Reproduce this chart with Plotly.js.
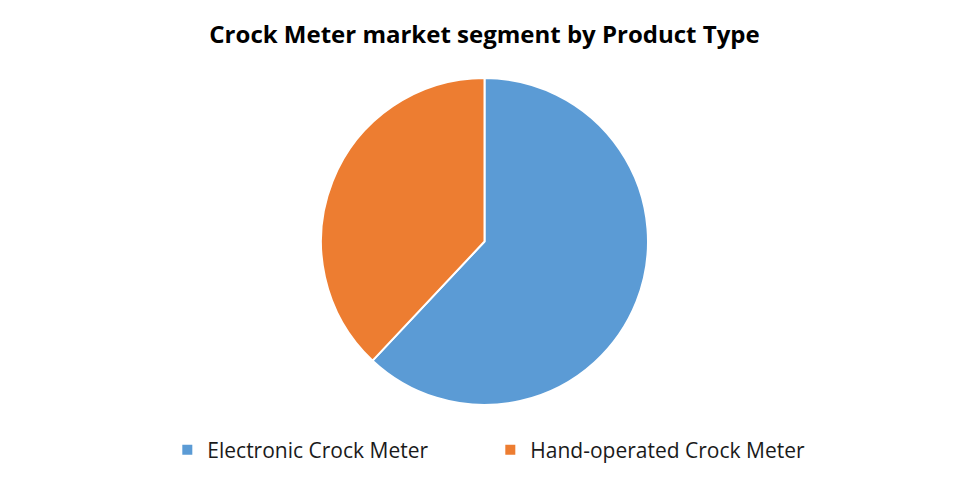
<!DOCTYPE html>
<html>
<head>
<meta charset="utf-8">
<script src="https://cdn.plot.ly/plotly-3.0.1.min.js"></script>
<style>
  html, body { margin: 0; padding: 0; background: #fff; }
  #chart { width: 969px; height: 485px; }
</style>
</head>
<body>
<div id="chart"></div>
<script>
const segments = ['Electronic Crock Meter', 'Hand-operated Crock Meter'];
const shares = [62, 38];
const colors = ['#5B9BD5', '#ED7D31'];

const data = [{
  type: 'pie',
  labels: segments,
  values: shares,
  sort: false,
  direction: 'clockwise',
  rotation: 0,
  textinfo: 'none',
  hoverinfo: 'label+percent',
  marker: { colors: colors, line: { color: '#ffffff', width: 2 } }
}];

const layout = {
  width: 969,
  height: 485,
  margin: { t: 78, b: 80, l: 0, r: 0 },
  paper_bgcolor: '#ffffff',
  title: {
    text: '<b>Crock Meter market segment by Product Type</b>',
    x: 0.5,
    xanchor: 'center',
    y: 0.928,
    yanchor: 'middle',
    font: { family: 'Open Sans, sans-serif', size: 24, color: '#000000' }
  },
  showlegend: true,
  legend: {
    orientation: 'h',
    x: 0.506,
    xanchor: 'center',
    y: -0.138,
    yanchor: 'middle',
    font: { family: 'Open Sans, sans-serif', size: 21, color: '#1a1a1a' },
    itemwidth: 30,
    entrywidth: 278,
    entrywidthmode: 'pixels'
  }
};

Plotly.newPlot('chart', data, layout, { displayModeBar: false });
</script>
</body>
</html>
